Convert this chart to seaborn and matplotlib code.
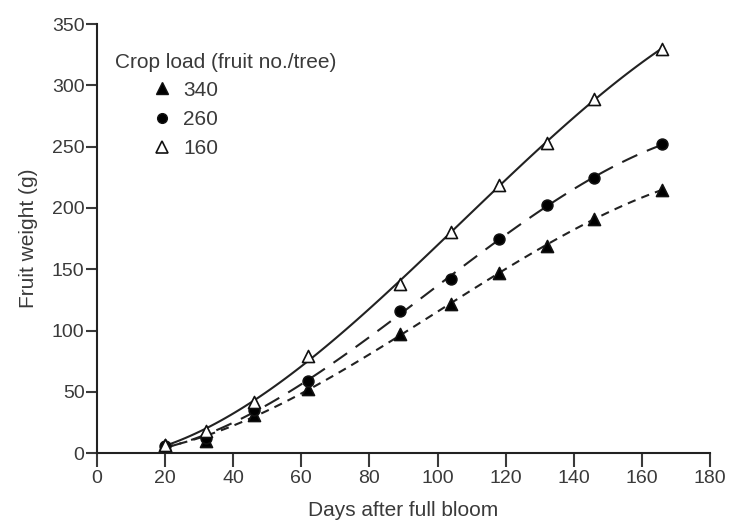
import numpy as np
import pandas as pd
import matplotlib
matplotlib.use("Agg")
import matplotlib.pyplot as plt
import seaborn as sns
from matplotlib.lines import Line2D

sns.set_style("ticks")
plt.rcParams['font.family'] = ['Liberation Sans', 'DejaVu Sans']

days = [20, 32, 46, 62, 89, 104, 118, 132, 146, 166]
w340 = [7, 10, 31, 52, 97, 122, 147, 169, 191, 215]
w260 = [6, 12, 35, 59, 116, 142, 175, 202, 224, 252]
w160 = [7, 18, 42, 79, 138, 180, 219, 253, 289, 330]
loads = ["340", "260", "160"]
xticks = [0, 20, 40, 60, 80, 100, 120, 140, 160, 180]
yticks = [0, 50, 100, 150, 200, 250, 300, 350]

df = pd.DataFrame({
    "day": days * 3,
    "weight": w340 + w260 + w160,
    "load": ["340"] * len(days) + ["260"] * len(days) + ["160"] * len(days),
})

fig = plt.figure(figsize=(7.32, 5.22), dpi=100)
ax = fig.add_axes([0.1325, 0.132, 0.8375, 0.822])

styles = {
    "340": dict(marker="^", face="black", ls=(0, (4, 3))),
    "260": dict(marker="o", face="black", ls=(0, (8, 5))),
    "160": dict(marker="^", face="white", ls="-"),
}
txtc = "#3a3a3a"
for ld in loads:
    sub = df[df["load"] == ld]
    st = styles[ld]
    sns.regplot(data=sub, x="day", y="weight", order=3, ci=None, scatter=False,
                ax=ax, line_kws=dict(color="#222222", lw=1.5, ls=st["ls"]))
    sns.scatterplot(data=sub, x="day", y="weight", ax=ax, marker=st["marker"],
                    s=75 if st["marker"] == "^" else 60,
                    color=st["face"], edgecolor="#111111", linewidth=1.2, zorder=5)

ax.set_xlim(0, 180)
ax.set_ylim(0, 350)
ax.set_xticks(xticks)
ax.set_yticks(yticks)
ax.set_xlabel("Days after full bloom", fontsize=15, color=txtc, labelpad=10)
ax.set_ylabel("Fruit weight (g)", fontsize=15, color=txtc, labelpad=10)
ax.tick_params(axis="both", labelsize=14, colors=txtc, width=1.5, direction="out")
ax.tick_params(axis="x", length=10, pad=2)
ax.tick_params(axis="y", length=8, pad=1)
for s in ["left", "bottom"]:
    ax.spines[s].set_linewidth(1.5)
    ax.spines[s].set_color("#222222")
sns.despine(ax=ax)

ax.text(0.029, 0.911, "Crop load (fruit no./tree)", transform=ax.transAxes,
        fontsize=15, color=txtc, va="center", ha="left")
handles = [
    Line2D([], [], marker="^", ls="none", markerfacecolor="black", markeredgecolor="#111111", markersize=8),
    Line2D([], [], marker="o", ls="none", markerfacecolor="black", markeredgecolor="#111111", markersize=7),
    Line2D([], [], marker="^", ls="none", markerfacecolor="white", markeredgecolor="#111111", markersize=8, markeredgewidth=1.2),
]
leg = ax.legend(handles, loads, loc="upper left", bbox_to_anchor=(0.066, 0.902),
                frameon=False, fontsize=15, handlelength=1.0, handletextpad=0.5,
                labelspacing=0.5, borderpad=0.2)
for t in leg.get_texts():
    t.set_color(txtc)

fig.savefig("out.png", dpi=100)
